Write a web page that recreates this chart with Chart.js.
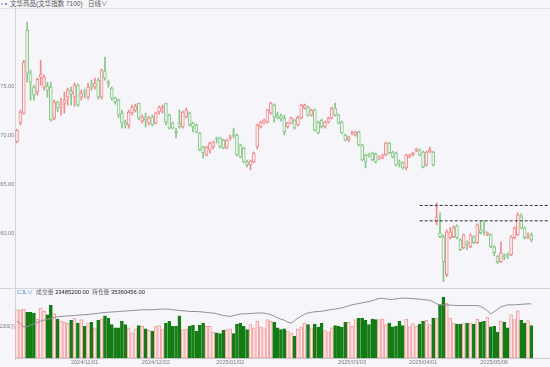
<!DOCTYPE html>
<html lang="zh-CN">
<head>
    <meta charset="UTF-8" />
    <title>文华商品 日线</title>
    <script src="https://cdn.jsdelivr.net/npm/chart.js@4.4.1/dist/chart.umd.min.js"></script>
    <style>
        body {
            margin: 0;
            width: 550px;
            height: 367px;
            overflow: hidden;
            position: relative;
            background: #f5f5fa;
            font-family: 'Liberation Sans', 'Noto Sans CJK SC', sans-serif;
        }

        canvas {
            position: absolute;
            left: 0;
        }

        #price { top: 10px; }
        #vol { top: 284px; }

        .line {
            position: absolute;
            background: #d3d4db;
        }

        .title {
            position: absolute;
            left: 10px;
            top: 0;
            font-size: 6.5px;
            line-height: 8px;
            color: #555;
            white-space: nowrap;
        }

        .dot {
            position: absolute;
            top: 3px;
            width: 2px;
            height: 2px;
            border-radius: 1px;
        }

        .legend {
            position: absolute;
            left: 17px;
            top: 289px;
            font-size: 5.8px;
            line-height: 7px;
            color: #666;
            white-space: nowrap;
        }

        .legend .cjl { color: #4a7fd6; margin-right: 3px; }
        .legend b { color: #222; font-weight: normal; margin-right: 3px; }
    </style>
</head>
<body>
    <span class="dot" style="left:1px;background:#aaa"></span>
    <span class="dot" style="left:5px;background:#3a6fd0"></span>
    <div class="title">文华商品(文华指数 7100)&nbsp;&nbsp;&nbsp;日线∨</div>
    <div class="line" style="left:0;top:8px;width:550px;height:1px;background:#e2e3e9"></div>
    <div class="line" style="left:15px;top:8px;width:1px;height:352px"></div>
    <div class="line" style="left:0;top:288px;width:550px;height:1px"></div>

    <canvas id="price" width="550" height="278"></canvas>
    <canvas id="vol" width="550" height="83"></canvas>
    <div class="legend" id="legend"></div>

    <script>
        // daily OHLC, 文华商品指数
        const open = [
            69.33, 71.25, 72.26, 80.67, 76.32, 74.90, 74.39, 75.91, 74.90, 75.00,
            74.90, 71.76, 73.38, 72.87, 73.28, 73.89, 74.49, 73.89, 75.10, 73.89,
            74.49, 73.89, 75.10, 74.90, 75.61, 73.89, 76.52, 75.41, 74.80, 73.78,
            73.58, 72.26, 71.35, 71.05, 72.26, 72.57, 73.28, 71.45, 71.86, 71.25,
            71.86, 71.25, 72.37, 72.82, 73.28, 72.06, 71.25, 70.44, 71.25, 70.85,
            71.86, 72.26, 71.25, 71.05, 70.24, 68.82, 68.01, 68.52, 68.82, 69.63,
            69.73, 69.53, 68.72, 69.73, 70.04, 70.04, 69.02, 68.72, 67.30, 67.00,
            67.30, 68.82, 70.85, 71.25, 71.35, 72.26, 73.07, 72.06, 71.96, 71.76,
            70.85, 71.25, 71.56, 71.05, 71.76, 72.77, 72.87, 72.06, 72.57, 71.35,
            71.56, 70.85, 71.35, 71.76, 72.77, 72.06, 71.35, 70.04, 69.53, 70.19,
            70.04, 70.34, 69.02, 68.01, 68.01, 68.21, 68.11, 67.71, 67.71, 68.01,
            69.22, 68.31, 68.21, 67.30, 67.20, 66.69, 67.81, 68.01, 68.47, 68.52,
            68.31, 67.00, 68.31, 68.31, 61.22, 60.11, 59.70, 55.85, 59.60, 59.70,
            60.82, 59.39, 58.59, 59.19, 58.69, 59.70, 59.09, 60.41, 60.21, 59.90,
            59.90, 58.69, 57.68, 57.17, 57.78, 57.88, 57.88, 59.60, 59.90, 61.73,
            60.61, 59.60, 59.90
        ];
        const high = [
            70.64, 72.57, 77.63, 81.51, 76.62, 75.10, 75.81, 77.63, 76.12, 75.41,
            75.41, 73.58, 73.48, 73.79, 74.39, 74.80, 74.90, 75.30, 75.20, 74.59,
            74.69, 75.30, 75.61, 75.81, 75.81, 76.72, 77.94, 75.61, 74.90, 73.89,
            73.68, 72.57, 71.56, 72.57, 73.07, 73.18, 73.28, 72.06, 72.26, 71.96,
            72.06, 72.37, 72.97, 73.07, 73.28, 72.16, 71.35, 70.74, 72.57, 72.47,
            72.77, 72.37, 71.35, 71.15, 70.34, 68.92, 68.92, 69.33, 69.43, 69.83,
            69.83, 69.63, 69.63, 70.04, 70.74, 70.14, 69.12, 68.82, 67.50, 67.50,
            68.31, 71.15, 71.45, 71.66, 72.67, 73.38, 73.18, 72.37, 72.16, 72.06,
            71.35, 71.86, 71.66, 71.96, 73.18, 73.18, 72.97, 72.67, 72.67, 71.45,
            71.66, 71.45, 71.86, 72.87, 73.28, 72.16, 71.45, 70.14, 69.93, 70.44,
            70.44, 70.44, 69.12, 68.11, 68.21, 68.31, 68.21, 67.91, 68.11, 69.33,
            69.33, 68.41, 68.31, 67.50, 67.30, 68.11, 68.11, 68.31, 68.72, 68.62,
            68.41, 68.41, 68.82, 68.41, 63.15, 62.13, 59.90, 60.41, 60.61, 60.82,
            60.92, 59.49, 60.00, 59.29, 60.00, 59.80, 61.02, 61.32, 61.32, 60.21,
            60.00, 58.79, 57.78, 59.19, 57.98, 58.08, 59.80, 60.72, 62.13, 62.03,
            60.72, 60.11, 60.11
        ];
        const low = [
            69.22, 71.05, 72.16, 75.41, 73.58, 73.58, 74.09, 75.10, 74.59, 73.89,
            71.45, 71.56, 72.37, 72.06, 72.26, 73.07, 73.07, 72.97, 72.97, 73.58,
            73.79, 73.68, 74.59, 74.69, 73.68, 73.68, 75.61, 74.90, 73.58, 73.18,
            71.76, 70.74, 70.74, 70.74, 72.06, 72.37, 71.56, 71.25, 70.85, 71.05,
            70.95, 71.15, 72.16, 72.26, 71.05, 70.64, 70.64, 69.73, 70.74, 70.74,
            71.76, 70.95, 70.34, 70.24, 68.41, 67.71, 67.91, 68.21, 68.62, 69.22,
            68.72, 68.62, 68.62, 69.53, 69.73, 67.91, 67.71, 67.20, 66.79, 66.49,
            67.20, 68.62, 70.74, 71.15, 71.25, 72.16, 71.35, 71.66, 71.45, 70.04,
            70.74, 71.15, 70.64, 70.95, 71.66, 72.67, 71.96, 71.96, 70.44, 70.14,
            70.74, 70.74, 71.25, 71.66, 71.96, 71.15, 70.14, 69.43, 69.33, 70.04,
            69.93, 68.92, 67.40, 66.69, 67.81, 67.40, 67.20, 67.50, 67.61, 67.91,
            68.11, 67.71, 66.89, 66.79, 66.59, 66.49, 67.71, 67.91, 68.31, 67.91,
            66.69, 66.89, 68.21, 66.89, 60.92, 59.60, 55.14, 55.65, 59.49, 59.60,
            59.49, 58.28, 58.48, 58.38, 58.59, 58.99, 58.99, 60.00, 59.90, 59.80,
            58.59, 57.78, 56.97, 57.07, 57.37, 57.47, 57.78, 59.49, 59.80, 60.51,
            59.49, 59.49, 59.19
        ];
        const close = [
            70.54, 72.37, 77.43, 76.32, 75.41, 74.09, 75.71, 76.22, 75.91, 74.59,
            71.56, 73.38, 72.77, 73.18, 73.58, 74.59, 74.19, 75.10, 73.07, 74.29,
            74.39, 74.90, 75.00, 75.30, 73.89, 76.62, 75.81, 75.20, 73.78, 73.38,
            72.06, 71.25, 71.05, 72.37, 72.87, 72.97, 71.76, 71.86, 71.56, 71.76,
            71.05, 72.26, 72.87, 72.87, 71.35, 70.74, 70.74, 70.24, 70.85, 72.37,
            72.57, 71.05, 70.85, 70.34, 68.52, 68.21, 68.82, 69.22, 69.33, 69.58,
            68.82, 68.72, 69.53, 69.83, 69.98, 68.01, 67.81, 67.30, 67.00, 67.40,
            68.21, 71.05, 71.35, 71.56, 72.57, 73.28, 71.86, 71.76, 71.66, 70.34,
            71.25, 71.76, 70.74, 71.86, 73.07, 73.07, 72.06, 72.57, 70.54, 70.24,
            70.85, 71.35, 71.76, 72.77, 72.06, 71.25, 70.24, 69.53, 69.83, 70.24,
            70.34, 69.02, 67.50, 67.30, 67.96, 67.50, 67.30, 67.81, 68.01, 69.22,
            68.21, 67.81, 67.00, 67.20, 66.69, 68.01, 68.01, 68.21, 68.52, 68.01,
            66.79, 68.31, 68.52, 67.00, 61.73, 59.70, 57.17, 60.21, 60.21, 60.61,
            59.60, 58.38, 59.90, 58.89, 59.90, 59.09, 60.92, 60.11, 60.16, 60.11,
            58.69, 58.08, 57.17, 58.08, 57.68, 57.78, 59.70, 60.61, 61.93, 60.61,
            59.60, 59.70, 59.39
        ];

        // 成交量 (万)
        const volume = [
            3480, 3480, 3530, 3290, 3290, 3240, 2820, 3600, 3360, 3120,
            3790, 3200, 2820, 2650, 2580, 2530, 2720, 2890, 2530, 2770,
            2300, 2530, 2580, 2180, 2720, 2820, 3050, 2890, 2410, 2180,
            2180, 2650, 2410, 2180, 1820, 2110, 2340, 2300, 2110, 2010,
            1940, 2300, 2340, 2060, 2530, 2650, 2300, 2300, 3050, 2060,
            2110, 2300, 2370, 1940, 2370, 2530, 2300, 2300, 1870, 1820,
            1780, 2010, 2060, 2110, 1780, 2460, 2530, 2300, 2060, 2410,
            2180, 2650, 2250, 2180, 2770, 2650, 2580, 2180, 2060, 2110,
            1940, 1820, 1580, 2110, 2250, 2530, 2410, 2180, 2460, 2230,
            2510, 1990, 1890, 2180, 2340, 2300, 2230, 2580, 2580, 2300,
            2770, 2890, 2860, 2720, 2410, 2820, 2770, 2770, 2820, 2410,
            2530, 2250, 2300, 2650, 2340, 2820, 2250, 2490, 2300, 2460,
            2650, 2720, 2410, 2890, 2890, 3830, 4380, 3950, 2890, 2530,
            2460, 2460, 2490, 2530, 2530, 2460, 2820, 2600, 2650, 2960,
            2250, 2300, 1870, 2650, 2600, 2180, 3120, 2770, 3410, 2720,
            2530, 2700, 2348.52
        ];

        // 持仓量 (万)
        const openInterest = [
            3394, 3376, 3348, 3352, 3364, 3376, 3384, 3396, 3404, 3412,
            3416, 3424, 3432, 3434, 3436, 3438, 3440, 3442, 3444, 3446,
            3448, 3450, 3454, 3456, 3460, 3464, 3466, 3468, 3470, 3472,
            3474, 3476, 3478, 3480, 3482, 3484, 3486, 3488, 3488, 3488,
            3488, 3490, 3492, 3494, 3494, 3492, 3488, 3486, 3482, 3480,
            3478, 3474, 3474, 3474, 3472, 3470, 3466, 3464, 3462, 3456,
            3448, 3442, 3438, 3434, 3440, 3448, 3454, 3456, 3456, 3458,
            3460, 3462, 3462, 3460, 3456, 3448, 3436, 3424, 3412, 3404,
            3388, 3380, 3400, 3420, 3436, 3452, 3462, 3468, 3472, 3474,
            3476, 3480, 3486, 3490, 3494, 3498, 3504, 3512, 3520, 3528,
            3534, 3538, 3544, 3550, 3554, 3562, 3570, 3580, 3580, 3576,
            3572, 3572, 3576, 3580, 3582, 3582, 3580, 3578, 3576, 3574,
            3570, 3568, 3564, 3552, 3536, 3528, 3528, 3528, 3526, 3524,
            3522, 3522, 3522, 3522, 3522, 3522, 3522, 3516, 3500, 3480,
            3454, 3472, 3492, 3512, 3520, 3528, 3528, 3528, 3530, 3532,
            3534, 3536, 3536.0456
        ];

        const tickIdx = [20, 41, 63, 99, 120, 141];
        const tickLabels = ['2024/11/01', '2024/12/02', '2025/01/02', '2025/03/03', '2025/04/01', '2025/05/06'];
        const priceTicks = [60, 65, 70, 75];
        const levels = [62.88, 61.32];   // 虚线
        const levelFrom = 119;
        const slotCount = 158;

        const RED = '#ef8a8a', RED_FILL = '#fbeef0';
        const GREEN = '#86c686', GREEN_FILL = '#eef6ee';
        const VOL_GREEN = '#147c14', VOL_RED = '#f19c9c', VOL_RED_FILL = '#fde7e8';
        const TICK = '#7c7c84';

        Chart.defaults.font.family = "'Liberation Sans', 'Noto Sans CJK SC', sans-serif";

        const up = close.map((c, i) => c >= open[i]);
        const labels = Array.from({ length: slotCount }, (_, i) => {
            const k = tickIdx.indexOf(i);
            return k < 0 ? '' : tickLabels[k];
        });
        const bodies = open.map((o, i) => [Math.min(o, close[i]), Math.max(o, close[i])]);
        const wicks = low.map((l, i) => [l, high[i]]);
        const levelLine = v => labels.map((_, i) => i >= levelFrom ? v : null);

        const fixWidth = s => { s.width = 15.3; };
        const noInteraction = {
            responsive: false,
            animation: false,
            events: [],
            plugins: { legend: { display: false }, tooltip: { enabled: false } }
        };

        new Chart(document.getElementById('price'), {
            type: 'bar',
            data: {
                labels: labels,
                datasets: [
                    ...levels.map(v => ({
                        type: 'line',
                        data: levelLine(v),
                        borderColor: '#2b2b2b',
                        borderWidth: 1,
                        borderDash: [3, 2],
                        pointRadius: 0
                    })),
                    {
                        data: bodies,
                        backgroundColor: up.map(u => u ? RED_FILL : GREEN_FILL),
                        borderColor: up.map(u => u ? RED : GREEN),
                        borderWidth: 1,
                        borderSkipped: false,
                        barThickness: 3,
                        minBarLength: 1,
                        grouped: false
                    },
                    {
                        data: wicks,
                        backgroundColor: up.map(u => u ? RED : GREEN),
                        barThickness: 1,
                        grouped: false
                    }
                ]
            },
            options: {
                ...noInteraction,
                layout: { padding: { top: 4, bottom: 4, left: 0, right: 0 } },
                scales: {
                    x: { display: false, offset: true },
                    y: {
                        min: 54.94,
                        max: 82.29,
                        afterFit: fixWidth,
                        afterBuildTicks: s => { s.ticks = priceTicks.map(v => ({ value: v })); },
                        ticks: { callback: v => v.toFixed(2), font: { size: 5.6 }, color: TICK, padding: 1 },
                        grid: { display: false, drawTicks: false },
                        border: { display: false }
                    }
                }
            }
        });

        new Chart(document.getElementById('vol'), {
            type: 'bar',
            data: {
                labels: labels,
                datasets: [
                    {
                        type: 'line',
                        data: openInterest,
                        yAxisID: 'oi',
                        borderColor: '#8e8e94',
                        borderWidth: 1,
                        pointRadius: 0
                    },
                    {
                        data: volume,
                        backgroundColor: up.map(u => u ? VOL_RED_FILL : VOL_GREEN),
                        borderColor: up.map(u => u ? VOL_RED : VOL_GREEN),
                        borderWidth: 1,
                        borderSkipped: false,
                        barThickness: 3
                    }
                ]
            },
            options: {
                ...noInteraction,
                layout: { padding: { top: 4, bottom: 0, left: 0, right: 0 } },
                scales: {
                    x: {
                        offset: true,
                        grid: { display: false, drawTicks: false },
                        border: { color: '#c9cad2' },
                        ticks: { autoSkip: false, maxRotation: 0, minRotation: 0, font: { size: 5.6 }, color: TICK, padding: 1 }
                    },
                    y: {
                        min: 0,
                        max: 5040,
                        afterFit: fixWidth,
                        afterBuildTicks: s => { s.ticks = [{ value: 2300 }]; },
                        ticks: { callback: v => v + '万', font: { size: 4.8 }, color: TICK, padding: 0 },
                        grid: { display: false, drawTicks: false },
                        border: { display: false }
                    },
                    oi: { display: false, min: 3096, max: 3664 }
                }
            }
        });

        const last = volume.length - 1;
        document.getElementById('legend').innerHTML =
            '<span class="cjl">CJL∨</span>成交量 <b>' + (volume[last] * 10000).toFixed(2) +
            '</b>持仓量 <b>' + (openInterest[last] * 10000).toFixed(2) + '</b>';
    </script>
</body>
</html>
